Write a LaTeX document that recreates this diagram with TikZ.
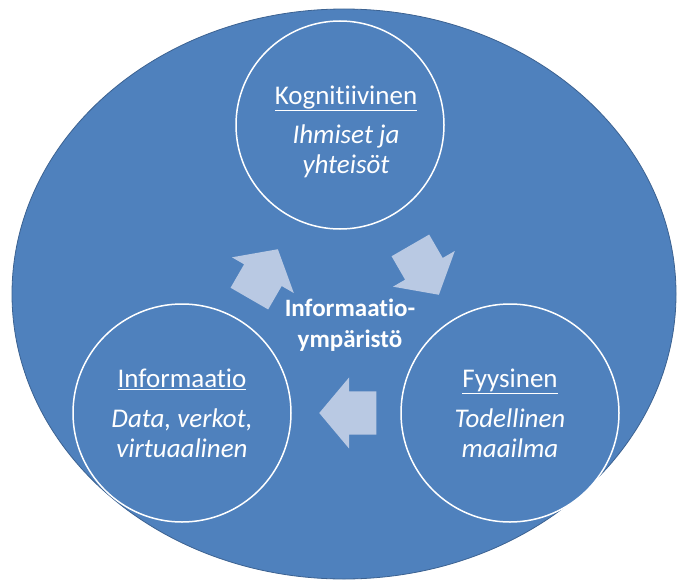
\documentclass[tikz,border=0pt]{standalone}
\usepackage{fontspec}
\setmainfont{Carlito}[Ligatures=NoCommon]
\usetikzlibrary{shapes.geometric}
\usetikzlibrary{shapes.arrows}

\definecolor{officeblue}{RGB}{79,129,189}
\definecolor{officeline}{RGB}{60,98,145}
\definecolor{arrowblue}{RGB}{185,201,227}

\begin{document}
\begin{tikzpicture}
[x=1pt,y=-1pt,
realm/.style={ellipse, draw=officeline, thick, fill=officeblue,
minimum width=664pt, minimum height=570pt, inner sep=0pt},
sphere/.style ={circle, draw=white, line width=1.5pt, fill=officeblue,
inner sep=0pt},
spheretext/.style ={text=white, align=center,
font=\fontsize{27}{30}\selectfont},
hubtext/.style ={text=white, align=center,
font=\fontsize{25}{31}\selectfont\bfseries},
flowarrow/.style ={single arrow, fill=arrowblue,
inner xsep=0pt, inner ysep=21.5pt, minimum height=57pt,
single arrow head extend=14pt, single arrow tip angle=100, anchor=tip}]
\useasboundingbox (0,0) rectangle (679,586);
% the outer environment
\node [realm] (env) at (344,294) {};
% three domains
\node [sphere, minimum size=208pt] (kog)  at (340,125) {};
\node [sphere, minimum size=218pt] (info) at (182,413) {};
\node [sphere, minimum size=218pt] (fyys) at (510,413) {};
\node [spheretext] (kogtxt) at ([xshift=6pt,yshift=-7pt]kog.center)
  {\underline{Kognitiivinen}\\[9pt] \itshape Ihmiset ja\\ \itshape yhteisöt};
\node [spheretext] (infotxt) at (info.center)
  {\underline{Informaatio}\\[10pt] \itshape Data, verkot,\\ \itshape virtuaalinen};
\node [spheretext] (fyystxt) at (fyys.center)
  {\underline{Fyysinen}\\[10pt] \itshape Todellinen\\ \itshape maailma};
% centre label
\node [hubtext] (hub) at (350,325) {Informaatio-\\ympäristö};
% cycle arrows
\node [flowarrow, rotate=60]  (toKog)  at (278,249) {};
\node [flowarrow, rotate=-60] (toFyys) at (439,295) {};
\node [flowarrow, rotate=180] (toInfo) at (319,413) {};
\end{tikzpicture}
\end{document}
